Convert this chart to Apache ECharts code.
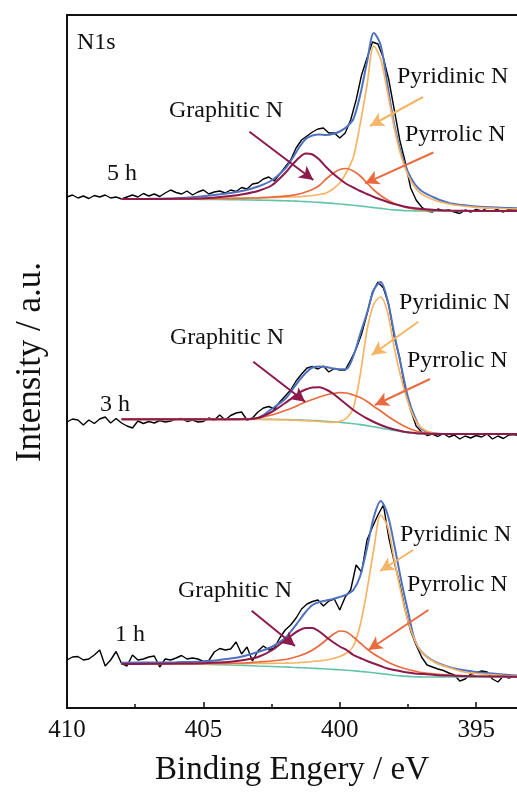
<!DOCTYPE html>
<html>
<head>
<meta charset="utf-8">
<script src="https://cdn.jsdelivr.net/npm/echarts@6/dist/echarts.min.js"></script>
<style>
  html, body { margin: 0; padding: 0; background: #fff; }
  #chart { width: 517px; height: 793px; }
</style>
</head>
<body>
<div id="chart"></div>
<script>
// binding energy grids (eV)
var rawE = [410, 409.8, 409.6, 409.4, 409.2, 409, 408.8, 408.6, 408.4, 408.2,
  408, 407.8, 407.6, 407.4, 407.2, 407, 406.8, 406.6, 406.4, 406.2,
  406, 405.8, 405.6, 405.4, 405.2, 405, 404.8, 404.6, 404.4, 404.2,
  404, 403.8, 403.6, 403.4, 403.2, 403, 402.8, 402.6, 402.4, 402.2,
  402, 401.8, 401.6, 401.4, 401.2, 401, 400.8, 400.6, 400.4, 400.2,
  400, 399.8, 399.6, 399.4, 399.2, 399, 398.8, 398.6, 398.4, 398.2,
  398, 397.8, 397.6, 397.4, 397.2, 397, 396.8, 396.6, 396.4, 396.2,
  396, 395.8, 395.6, 395.4, 395.2, 395, 394.8, 394.6, 394.4, 394.2,
  394, 393.8, 393.6, 393.4];
var fitE = [408, 407, 406, 405, 404, 403.5, 403, 402.5, 402, 401.75, 401.5, 401.25, 401, 400.75,
  400.5, 400.25, 400, 399.75, 399.5, 399.25, 399, 398.75, 398.5, 398.25, 398, 397.75, 397.5,
  397.25, 397, 396.5, 396, 395.5, 395, 394, 393.5];

// intensity (a.u., offset stacked, axis runs downward)
// 5 h
var raw5h = [197, 195, 198, 196, 198.5, 195.5, 197, 195, 198, 197,
  199, 197, 195, 197, 193.5, 196, 194, 196.5, 193, 190,
  192.5, 194, 191, 195, 192, 190, 194, 192, 191, 193,
  190, 191.5, 187.5, 189, 184, 183, 179, 177, 181, 174,
  167, 160, 148, 140, 136, 132, 129, 128, 133, 133,
  138, 133, 120, 100, 75, 58, 42, 44, 58, 80,
  110, 140, 162, 188, 200, 207, 211, 212, 209, 211,
  210, 212, 213.5, 210, 212, 209.5, 211, 208, 207.5, 210,
  212, 209, 210, 209];
var env5h = [199, 198.8, 198.3, 196.3, 193, 190.5, 186.5, 180.5, 168.5, 159, 148, 139, 135.5, 134.5,
  135, 134, 131.5, 127, 119, 95, 62, 33, 45, 85, 125, 153, 172, 184, 191, 198, 203, 205, 206.5, 207.8, 208.3];
var graph5h = [199, 199, 198.8, 198.3, 196, 194, 191, 185.5, 173, 165, 158, 153.5, 154.5, 159.5,
  167, 173.5, 179, 184, 187.5, 191, 194, 197, 199.5, 202, 204, 205.7, 207.2, 208.3, 209, 210, 210.5, 210.8, 211, 211, 211];
var pyrr5h = [199, 199, 199, 198.8, 198.5, 198.2, 197.8, 197.2, 196.2, 195.3, 194, 192, 189.5, 185.5,
  179, 173.5, 169.5, 168.5, 171, 176, 183, 190, 195.5, 200, 203.5, 206, 207.8, 209, 209.8, 210.5, 210.8, 211, 211, 211, 211];
var pyrid5h = [199, 199, 198.8, 198.5, 198.2, 198, 197.8, 197.5, 197.2, 197, 196.6, 196.2, 195.5, 194.5,
  193, 189, 183, 172, 157, 124, 85, 46, 59, 92, 128, 156, 175, 187, 194, 200.5, 204, 206, 207.3, 208.5, 209];
var bg5h = [199, 199, 199.2, 199.4, 199.7, 199.9, 200.1, 200.4, 200.8, 201, 201.3, 201.6, 202, 202.4,
  202.9, 203.4, 204, 204.6, 205.3, 206, 206.8, 207.6, 208.4, 209.2, 209.9, 210.4, 210.7, 210.9, 211, 211, 211, 211, 211, 211, 211];

// 3 h
var raw3h = [422, 419, 420, 425, 420, 423.5, 419, 417, 423, 418.5,
  423, 426, 428, 421, 423.5, 421.5, 423, 420.5, 422, 421,
  419, 418.5, 421.5, 420, 422, 421.5, 418, 420, 415, 420,
  415.5, 413, 412, 420, 418, 412, 408, 406.5, 409, 402,
  396, 390, 381, 374, 368, 366.5, 369, 366, 372, 368.5,
  370, 370, 360, 349, 334, 314, 292, 282, 288, 305,
  337, 358, 390, 410, 426, 432, 435.5, 434, 436.5, 433.5,
  437, 435, 439, 436, 438, 435.5, 437, 434, 439, 436,
  438.5, 435, 434.5, 436];
var env3h = [419.3, 419.3, 419.3, 419.3, 419.3, 419, 418, 409, 399, 390, 381, 373, 367.5, 366.5,
  367, 368.5, 369.3, 369, 356, 334, 313, 290, 282, 300, 334, 366, 397, 417, 429, 433.5, 434, 434, 434, 434, 434];
var graph3h = [419.3, 419.3, 419.3, 419.3, 419.3, 419.3, 418, 412, 403, 398, 393, 389.5, 387.5, 387.3,
  389.5, 393.5, 399, 404.5, 410, 414.5, 418.5, 422, 425, 427.5, 429.5, 431, 432.3, 433, 433.6, 434, 434, 434, 434, 434, 434];
var pyrr3h = [419.3, 419.3, 419.3, 419.3, 419.3, 419.2, 418, 415, 410.5, 408, 405, 402, 399.5, 397,
  395, 393.5, 392.7, 393, 395, 397.5, 401.5, 406.5, 411, 416, 420.5, 424.5, 428, 430.5, 432.3, 433.6, 434, 434, 434, 434, 434];
var pyrid3h = [419.3, 419.3, 419.3, 419.3, 419.3, 419.4, 419.5, 419.7, 419.9, 420.1, 420.4, 420.7, 421, 421.5,
  422, 422.3, 421.5, 418, 408, 375, 330, 304, 297, 312, 348, 378, 402, 419, 428, 433.5, 434, 434, 434, 434, 434];
var bg3h = [419.3, 419.3, 419.3, 419.3, 419.3, 419.3, 419.3, 419.3, 419.5, 419.7, 419.9, 420.2, 420.5, 420.8,
  421.2, 421.7, 422.3, 423, 423.7, 424.6, 425.6, 426.8, 428, 429.3, 430.5, 431.6, 432.6, 433.3, 433.8, 434, 434, 434, 434, 434, 434];

// 1 h
var raw1h = [660, 657, 656.5, 660, 659, 655, 650, 666, 660, 651.5,
  663.5, 666, 655, 660, 659, 657, 656, 667, 659, 660,
  658, 655.5, 659, 658, 659, 661.5, 660.5, 652, 648.5, 650,
  649, 642, 654, 647, 661, 651, 646, 650, 648, 638,
  630, 625, 618, 609, 604, 601.5, 600, 606, 601, 599,
  610, 597, 590, 565, 572, 540, 527, 515, 505, 538,
  562, 584, 610, 631, 645, 657, 665, 667, 669, 670.5,
  673, 675, 681, 679, 674, 673, 671, 672, 679, 682,
  676, 678, 676, 677];
var env1h = [662.7, 662.5, 662.2, 661.5, 658.5, 656, 652, 647, 638, 630, 621, 612, 605, 602,
  600.5, 599, 597, 594.5, 590, 576, 548, 517, 501, 514, 545, 580, 611, 640, 652, 662, 667, 670, 672, 674.5, 675.5];
var graph1h = [664, 663.8, 663.6, 663.2, 661.8, 660, 657, 650.5, 640, 635, 630.5, 628, 628, 631.5,
  637, 642, 646.5, 650, 655, 658, 661, 663.5, 666, 668.5, 670, 671.3, 672.5, 673.4, 674, 675, 675.6, 676, 676.3, 676.6, 676.8];
var pyrr1h = [664, 664, 663.8, 663.6, 663.3, 663, 662, 661, 659.5, 658, 656, 653.5, 650, 645.5,
  640, 634.5, 631, 632, 637, 643, 649, 654, 658, 662, 665, 667.5, 669.5, 671, 672.5, 674, 675, 675.6, 676, 676.5, 676.8];
var pyrid1h = [664, 664, 663.9, 663.8, 663.6, 663.5, 663.4, 663.3, 663.2, 663, 662.6, 662.2, 661.5, 660.8,
  660, 658.5, 656.5, 653, 646, 625, 590, 549, 515, 526, 560, 593, 621, 640, 652, 662.5, 667.5, 671.7, 673.5, 675.5, 676.2];
var bg1h = [664, 664, 664, 664.3, 665, 665.4, 666, 666.5, 667, 667.3, 667.6, 667.9, 668.2, 668.6,
  669, 669.4, 669.8, 670.3, 670.8, 671.4, 672, 672.8, 673.6, 674.4, 675.2, 675.9, 676.4, 676.7, 676.9, 677, 677, 677, 677, 677, 677];

// arrow annotations: [start, tip] in data units
var arrows5h = { graph: [[403.31, 131.7], [400.97, 180]], pyrid: [[396.95, 97], [398.89, 126]], pyrr: [[396.57, 152.5], [399.07, 183.3]] };
var arrows3h = { graph: [[403.17, 361.7], [401.27, 401.7]], pyrid: [[397.12, 321.7], [398.83, 355]], pyrr: [[396.69, 379], [398.71, 405]] };
var arrows1h = { graph: [[403.23, 610.7], [401.64, 646]], pyrid: [[397.31, 550], [398.52, 571]], pyrr: [[396.75, 610], [398.95, 650]] };

var sampleNames = ['5 h', '3 h', '1 h'];
var peakNames = ['Graphitic N', 'Pyrrolic N', 'Pyridinic N'];

var panels = [
  { raw: raw5h, env: env5h, graph: graph5h, pyrr: pyrr5h, pyrid: pyrid5h, bg: bg5h, arrows: arrows5h },
  { raw: raw3h, env: env3h, graph: graph3h, pyrr: pyrr3h, pyrid: pyrid3h, bg: bg3h, arrows: arrows3h },
  { raw: raw1h, env: env1h, graph: graph1h, pyrr: pyrr1h, pyrid: pyrid1h, bg: bg1h, arrows: arrows1h }
];

var C_RAW = '#000000';
var C_ENV = '#4f72c0';
var C_GRAPH = '#8c1a4d';
var C_PYRR = '#ea6a40';
var C_PYRID = '#f6b466';
var C_BG = '#62c4a6';

var SERIF = '"Liberation Serif", "DejaVu Serif", serif';

function pairs(xs, ys) {
  return xs.map(function (x, i) { return [x, ys[i]]; });
}

function arrowMark(ends, color) {
  return {
    silent: true,
    animation: false,
    symbol: ['none', 'arrow'],
    symbolSize: [11, 14],
    label: { show: false },
    lineStyle: { color: color, width: 2, type: 'solid' },
    emphasis: { disabled: true },
    data: [[{ coord: ends[0] }, { coord: ends[1] }]]
  };
}

function fitLine(name, ys, color, width, ends) {
  var s = {
    name: name,
    type: 'line',
    data: pairs(fitE, ys),
    smooth: 0.3,
    showSymbol: false,
    silent: true,
    lineStyle: { color: color, width: width },
    itemStyle: { color: color }
  };
  if (ends) s.markLine = arrowMark(ends, color);
  return s;
}

var series = [];
panels.forEach(function (p, k) {
  series.push({
    name: sampleNames[k] + ' raw',
    type: 'line',
    data: pairs(rawE, p.raw),
    showSymbol: false,
    silent: true,
    lineStyle: { color: C_RAW, width: 1.4 },
    itemStyle: { color: C_RAW }
  });
  series.push(fitLine(sampleNames[k] + ' fit', p.env, C_ENV, 2));
  series.push(fitLine(sampleNames[k] + ' background', p.bg, C_BG, 1.6));
  series.push(fitLine(peakNames[2], p.pyrid, C_PYRID, 1.7, p.arrows.pyrid));
  series.push(fitLine(peakNames[1], p.pyrr, C_PYRR, 1.7, p.arrows.pyrr));
  series.push(fitLine(peakNames[0], p.graph, C_GRAPH, 2, p.arrows.graph));
});

function label(text, x, y, size) {
  return {
    type: 'text', x: x, y: y, silent: true,
    style: { text: text, font: (size || 24) + 'px ' + SERIF, fill: '#111', textAlign: 'left', textVerticalAlign: 'middle' }
  };
}

var graphics = [
  label('N1s', 77, 43),
  label(peakNames[0], 169, 111), label(peakNames[2], 397, 77), label(peakNames[1], 405, 135), label(sampleNames[0], 107, 174),
  label(peakNames[0], 170, 338), label(peakNames[2], 399, 303), label(peakNames[1], 407, 361), label(sampleNames[1], 100, 405),
  label(peakNames[0], 178, 591), label(peakNames[2], 400, 535), label(peakNames[1], 407, 585), label(sampleNames[2], 115, 635),
  {
    type: 'text', x: 292, y: 770, silent: true,
    style: { text: 'Binding Engery / eV', font: '33px ' + SERIF, fill: '#111', textAlign: 'center', textVerticalAlign: 'middle' }
  },
  {
    type: 'text', x: 31, y: 362, rotation: Math.PI / 2, silent: true,
    style: { text: 'Intensity / a.u.', font: '35px ' + SERIF, fill: '#111', textAlign: 'center', textVerticalAlign: 'middle' }
  }
];

var myChart = echarts.init(document.getElementById('chart'));

var option = {
  animation: false,
  backgroundColor: '#fff',
  // the frame runs past the right edge of the picture (cropped at ~393.5 eV)
  grid: { left: 67, top: 15, width: 545.5, height: 693, outerBoundsMode: 'none', containLabel: false },
  xAxis: [{
    type: 'value',
    min: 390,
    max: 410,
    interval: 5,
    inverse: true,
    axisLine: { show: true, lineStyle: { color: '#111', width: 2 } },
    axisTick: { show: true, inside: true, length: 6, lineStyle: { color: '#111', width: 1.5 } },
    minorTick: { show: true, splitNumber: 2, length: 4, lineStyle: { color: '#111', width: 1.5 } },
    axisLabel: { color: '#111', fontFamily: SERIF, fontSize: 25, margin: 10, showMinLabel: false },
    splitLine: { show: false }
  }, {
    type: 'value',
    position: 'top',
    min: 390,
    max: 410,
    inverse: true,
    axisLine: { show: true, lineStyle: { color: '#111', width: 2 } },
    axisTick: { show: false },
    axisLabel: { show: false },
    splitLine: { show: false }
  }],
  yAxis: {
    type: 'value',
    min: 15,
    max: 708,
    inverse: true,
    axisLine: { show: true, lineStyle: { color: '#111', width: 2 } },
    axisTick: { show: false },
    axisLabel: { show: false },
    splitLine: { show: false }
  },
  series: series,
  graphic: graphics
};

myChart.setOption(option);
</script>
</body>
</html>
